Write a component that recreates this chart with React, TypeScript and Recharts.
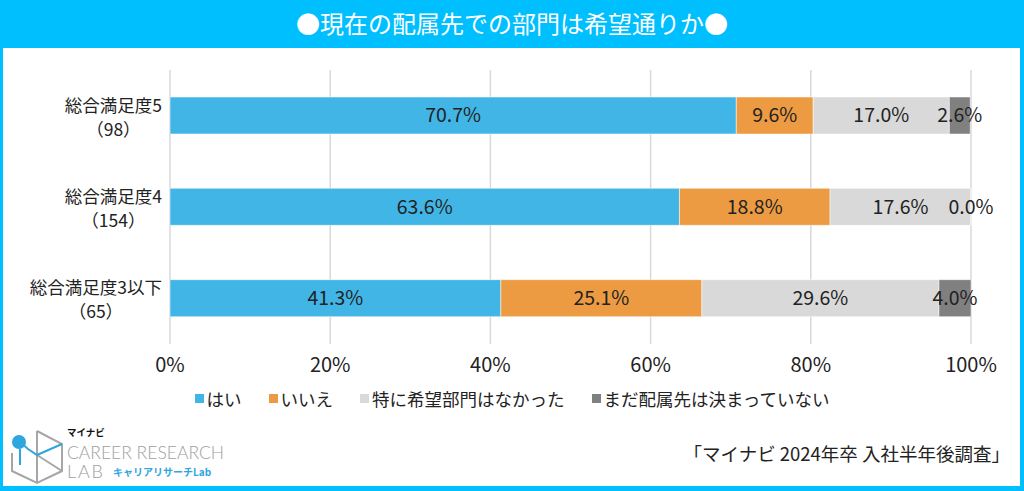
import React from "react";
import {
  BarChart,
  Bar,
  XAxis,
  YAxis,
  CartesianGrid,
  LabelList,
} from "recharts";

const categories = ["総合満足度5", "総合満足度4", "総合満足度3以下"];
const counts = [98, 154, 65];

const seriesNames = ["はい", "いいえ", "特に希望部門はなかった", "まだ配属先は決まっていない"];
const seriesColors = ["#41B6E6", "#EC9B42", "#D9D9D9", "#808080"];

const yes = [70.7, 63.6, 41.3];
const no = [9.6, 18.8, 25.1];
const noPreference = [17.0, 17.6, 29.6];
const undecided = [2.6, 0.0, 4.0];

const xTicks = [0, 20, 40, 60, 80, 100];

const FONT = "'Noto Sans CJK JP', 'Noto Sans', sans-serif";

const seriesValues = [yes, no, noPreference, undecided];
const data = categories.map((c, i) => {
  const row: any = { name: c, n: counts[i] };
  seriesNames.forEach((s, k) => (row["s" + k] = seriesValues[k][i]));
  return row;
});

let measureCtx: CanvasRenderingContext2D | null = null;
function textWidth(t: string, size: number) {
  if (!measureCtx) measureCtx = document.createElement("canvas").getContext("2d");
  if (!measureCtx) return t.length * size;
  measureCtx.font = `${size}px ${FONT}`;
  return measureCtx.measureText(t).width;
}

// 2行のカテゴリラベル（ブロックは右寄せ、行は中央揃え）
function CatTick(props: any) {
  const { x, y, payload, index } = props;
  const line1 = payload.value;
  const line2 = `（${counts[index]}）`;
  const w = textWidth(line1, 17.5);
  const cx = x - w / 2;
  return (
    <g>
      <text x={cx} y={y - 4} textAnchor="middle" fontSize={17.5} fill="#222" fontFamily={FONT}>
        {line1}
      </text>
      <text x={cx} y={y + 20} textAnchor="middle" fontSize={17.5} fill="#222" fontFamily={FONT}>
        {line2}
      </text>
    </g>
  );
}

function LegendRow() {
  return (
    <div
      style={{
        position: "absolute",
        top: 386,
        left: 0,
        width: 1024,
        display: "flex",
        justifyContent: "center",
        gap: 27,
        fontFamily: FONT,
        fontSize: 17.5,
        color: "#222",
      }}
    >
      {seriesNames.map((s, i) => (
        <div key={s} style={{ display: "flex", alignItems: "center" }}>
          <span
            style={{
              display: "inline-block",
              width: 9,
              height: 9,
              background: seriesColors[i],
              marginRight: 3,
            }}
          />
          {s}
        </div>
      ))}
    </div>
  );
}

function Logo() {
  return (
    <svg width={240} height={60} style={{ position: "absolute", left: 0, top: 425 }}>
      <g fill="none" stroke="#A6A6A6" strokeWidth={2}>
        <polyline points="37,6 62,19 62,46 37,58 12,46 12,28" />
        <line x1={37} y1={6} x2={37} y2={58} />
        <polyline points="37,30 62,46" />
      </g>
      <g fill="none" stroke="#2FA6DE" strokeWidth={2}>
        <polyline points="20,17 28,24 37,30 62,19" />
        <line x1={20} y1={24} x2={20} y2={40} />
      </g>
      <circle cx={19} cy={17} r={7} fill="#2FA6DE" />
      <text x={67} y={11} fontSize={9.5} fontWeight={700} fill="#111" fontFamily={FONT}>
        マイナビ
      </text>
      <text
        x={67}
        y={34}
        fontSize={18}
        fill="#A0A0A0"
        fontFamily="Lato, 'Noto Sans', sans-serif"
        fontWeight={300}
        textLength={157}
        lengthAdjust="spacingAndGlyphs"
      >
        CAREER RESEARCH
      </text>
      <text
        x={67}
        y={53}
        fontSize={18}
        fill="#A0A0A0"
        fontFamily="Lato, 'Noto Sans', sans-serif"
        fontWeight={300}
        textLength={36}
        lengthAdjust="spacing"
      >
        LAB
      </text>
      <text x={113} y={51} fontSize={10} fontWeight={700} fill="#2FA6DE" fontFamily={FONT}>
        キャリアリサーチLab
      </text>
    </svg>
  );
}

export default function App() {
  return (
    <div
      style={{
        position: "absolute",
        left: 0,
        top: 0,
        width: 1024,
        height: 491,
        background: "#00BFFF",
        overflow: "hidden",
      }}
    >
      <div
        style={{
          position: "absolute",
          left: 0,
          top: 0,
          width: 1024,
          height: 47,
          lineHeight: "46px",
          textAlign: "center",
          color: "#fff",
          fontFamily: FONT,
          fontSize: 24,
        }}
      >
        ●現在の配属先での部門は希望通りか●
      </div>
      <div
        style={{
          position: "absolute",
          left: 3,
          top: 48,
          width: 1017,
          height: 438,
          background: "#fff",
        }}
      />
      <div style={{ position: "absolute", left: 0, top: 0 }}>
        <BarChart
          width={1024}
          height={491}
          layout="vertical"
          data={data}
          barSize={37}
          margin={{ top: 70, right: 53, bottom: 117, left: 20 }}
        >
          <CartesianGrid horizontal={false} stroke="#D9D9D9" strokeWidth={1.5} />
          <XAxis
            type="number"
            domain={[0, 100]}
            ticks={xTicks}
            tickFormatter={(v: number) => `${v}%`}
            axisLine={false}
            tickLine={false}
            tickMargin={8}
            height={30}
            tick={{ fontSize: 20, fill: "#222", fontFamily: FONT }}
          />
          <YAxis
            type="category"
            dataKey="name"
            width={150}
            axisLine={false}
            tickLine={false}
            tick={<CatTick />}
          />
          {seriesNames.map((s, i) => (
            <Bar
              key={s}
              dataKey={"s" + i}
              name={s}
              stackId="a"
              fill={seriesColors[i]}
              stroke="#fff"
              strokeWidth={0.5}
              minPointSize={0.01}
              isAnimationActive={false}
            >
              <LabelList
                dataKey={"s" + i}
                position="center"
                formatter={(v: any) => `${Number(v).toFixed(1)}%`}
                style={{ fontSize: 19.5, fill: "#222", fontFamily: FONT }}
              />
            </Bar>
          ))}
        </BarChart>
      </div>
      <LegendRow />
      <Logo />
      <div
        style={{
          position: "absolute",
          right: 14,
          top: 440,
          fontFamily: FONT,
          fontSize: 18.5,
          color: "#222",
        }}
      >
        「マイナビ 2024年卒 入社半年後調査」
      </div>
    </div>
  );
}
